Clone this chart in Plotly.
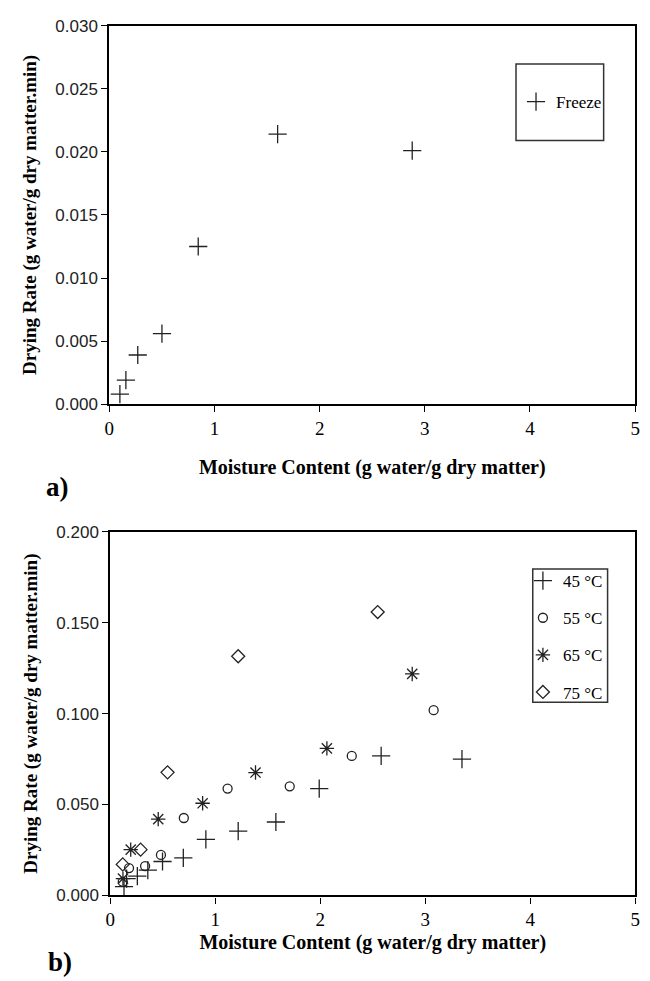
import plotly.graph_objects as go

# ---- data ----
freeze_x = [0.10, 0.157, 0.27, 0.50, 0.845, 1.60, 2.88]
freeze_y = [0.0008, 0.0019, 0.0039, 0.0056, 0.0125, 0.0214, 0.0201]

t45_x = [3.35, 2.58, 1.99, 1.577, 1.218, 0.91, 0.695, 0.497, 0.357, 0.257, 0.155, 0.13]
t45_y = [0.075, 0.0767, 0.0588, 0.0404, 0.0354, 0.0309, 0.0207, 0.0187, 0.0139, 0.0106, 0.0093, 0.0049]
t55_x = [3.08, 2.30, 1.709, 1.117, 0.70, 0.482, 0.331, 0.178, 0.118]
t55_y = [0.1019, 0.0767, 0.060, 0.0588, 0.0426, 0.0223, 0.0162, 0.0151, 0.0075]
t65_x = [2.876, 2.063, 1.383, 0.879, 0.456, 0.194, 0.12]
t65_y = [0.1218, 0.0809, 0.0676, 0.0507, 0.042, 0.0252, 0.0093]
t75_x = [2.547, 1.218, 0.545, 0.288, 0.118]
t75_y = [0.1558, 0.1315, 0.0677, 0.0252, 0.0171]

series_b = [
    ("45 °C", t45_x, t45_y, "cross-thin-open", 13),
    ("55 °C", t55_x, t55_y, "circle-open", 9),
    ("65 °C", t65_x, t65_y, "asterisk-open", 12),
    ("75 °C", t75_x, t75_y, "diamond-open", 10),
]

xtitle = "Moisture Content (g water/g dry matter)"
ytitle = "Drying Rate (g water/g dry matter.min)"

W, H = 650, 981
SERIF = "Liberation Serif, Times New Roman, serif"
SANS = "Liberation Sans, Arial, sans-serif"
INK = "#222222"

fig = go.Figure()

fig.add_trace(go.Scatter(
    x=freeze_x, y=freeze_y, mode="markers", name="Freeze",
    marker=dict(symbol="cross-thin-open", size=13, color=INK, line=dict(width=1.3, color=INK)),
    xaxis="x", yaxis="y", legend="legend"))

for name, xs, ys, sym, sz in series_b:
    fig.add_trace(go.Scatter(
        x=xs, y=ys, mode="markers", name=name, legendgroup=name,
        marker=dict(symbol=sym, size=sz, color=INK, line=dict(width=1.3, color=INK)),
        xaxis="x2", yaxis="y2", legend="legend2"))

def px_x(p):
    return p / W

def px_y(p):
    return 1 - p / H

axis_common = dict(
    showline=True, linecolor="black", linewidth=2.2, mirror=True,
    ticks="outside", ticklen=6, tickwidth=1.2, tickcolor="black",
    showgrid=False, zeroline=False,
)
xfont = dict(family=SERIF, size=19, color="black")
yfont = dict(family=SANS, size=17, color="#222222")
xtfont = dict(family=SERIF, size=20, color="black")
ytfont = dict(family=SERIF, size=19, color="black")

fig.update_layout(
    width=W, height=H,
    margin=dict(l=0, r=0, t=0, b=0),
    paper_bgcolor="white", plot_bgcolor="white",
    xaxis=dict(domain=[px_x(106), px_x(640)], range=[0, 5], dtick=1, anchor="y",
               tickfont=xfont,
               title=dict(text="<b>" + xtitle + "</b>", font=xtfont, standoff=22),
               **axis_common),
    yaxis=dict(domain=[px_y(403), px_y(17)], range=[0, 0.030], dtick=0.005, tickformat=".3f", anchor="x",
               tickfont=yfont,
               title=dict(text="<b>" + ytitle + "</b>", font=ytfont, standoff=14),
               **axis_common),
    xaxis2=dict(domain=[px_x(107), px_x(640)], range=[0, 5], dtick=1, anchor="y2",
                tickfont=xfont,
                title=dict(text="<b>" + xtitle + "</b>", font=xtfont, standoff=6),
                **axis_common),
    yaxis2=dict(domain=[px_y(904), px_y(533)], range=[0, 0.200], dtick=0.05, tickformat=".3f", anchor="x2",
                tickfont=yfont,
                title=dict(text="<b>" + ytitle + "</b>", font=ytfont, standoff=14),
                **axis_common),
    legend=dict(x=px_x(519), y=px_y(95), xanchor="left", yanchor="middle",
                bgcolor="rgba(0,0,0,0)", borderwidth=0,
                font=dict(family=SERIF, size=17, color="black"), itemwidth=30),
    legend2=dict(x=px_x(526), y=px_y(640), xanchor="left", yanchor="middle",
                 bgcolor="rgba(0,0,0,0)", borderwidth=0,
                 font=dict(family=SERIF, size=17, color="black"), itemwidth=30,
                 tracegroupgap=12),
    showlegend=True,
    shapes=[
        dict(type="rect", xref="paper", yref="paper",
             x0=px_x(519), x1=px_x(608), y0=px_y(134), y1=px_y(56),
             line=dict(color="#333333", width=1.5), fillcolor="rgba(0,0,0,0)", layer="below"),
        dict(type="rect", xref="paper", yref="paper",
             x0=px_x(536), x1=px_x(612), y0=px_y(707), y1=px_y(571),
             line=dict(color="#333333", width=1.5), fillcolor="white", layer="below"),
    ],
    annotations=[
        dict(text="<b>a)</b>", x=px_x(53), y=px_y(487), xref="paper", yref="paper",
             xanchor="center", yanchor="middle", showarrow=False,
             font=dict(family=SERIF, size=27, color="black")),
        dict(text="<b>b)</b>", x=px_x(56), y=px_y(972), xref="paper", yref="paper",
             xanchor="center", yanchor="middle", showarrow=False,
             font=dict(family=SERIF, size=27, color="black")),
    ],
)

fig.write_html("out.html")
